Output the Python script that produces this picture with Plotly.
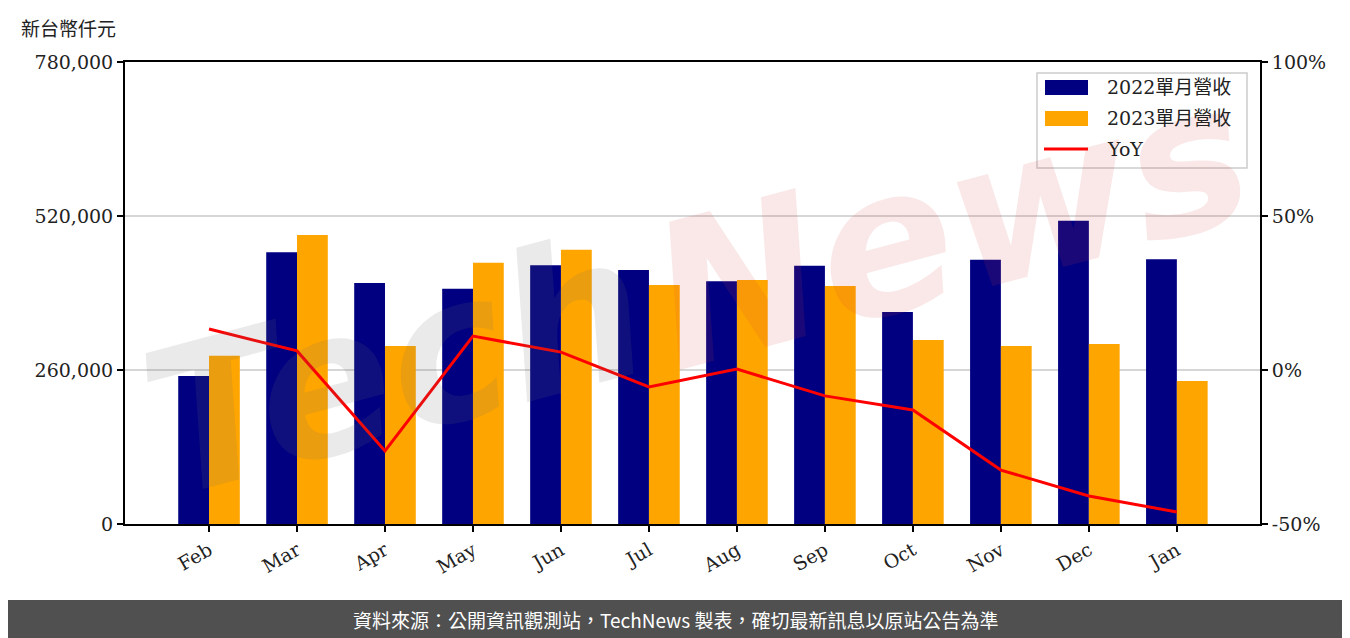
import plotly.graph_objects as go

months = ["Feb", "Mar", "Apr", "May", "Jun", "Jul", "Aug", "Sep", "Oct", "Nov", "Dec", "Jan"]
rev_2022 = [250000, 459000, 407000, 397000, 437000, 429000, 410000, 436000, 358000, 446000, 512000, 447000]
rev_2023 = [284000, 488000, 300500, 441000, 463000, 403500, 412000, 402000, 310500, 300500, 304000, 241500]
yoy = [13.3, 6.2, -26.3, 11.0, 5.8, -5.5, 0.3, -8.4, -13.0, -32.5, -40.9, -46.1]

left_ticks = [0, 260000, 520000, 780000]
left_labels = ["0", "260,000", "520,000", "780,000"]
right_ticks = [-50, 0, 50, 100]
right_labels = ["-50%", "0%", "50%", "100%"]

series_names = ["2022單月營收", "2023單月營收", "YoY"]
series_colors = ["#000080", "#FFA500", "#FF0000"]

serif = "DejaVu Serif, Noto Sans CJK TC, serif"
x_idx = list(range(len(months)))

fig = go.Figure()
fig.add_trace(go.Bar(x=x_idx, y=rev_2022, name=series_names[0], marker_color=series_colors[0],
                     marker_line_width=0, offset=-0.35, width=0.35, showlegend=False))
fig.add_trace(go.Bar(x=x_idx, y=rev_2023, name=series_names[1], marker_color=series_colors[1],
                     marker_line_width=0, offset=0.0, width=0.35, showlegend=False))
fig.add_trace(go.Scatter(x=x_idx, y=yoy, name=series_names[2], mode="lines",
                         line=dict(color=series_colors[2], width=3), yaxis="y2", showlegend=False))

# page offset (body margin 8px) compensation
OFF = 8
W, H = 1350 - OFF, 638 - OFF
L = 125 - OFF
T = 62 - OFF
R = 1350 - 1260
B = 638 - 524
pw, ph = W - L - R, H - T - B

def px_x(p):
    return (p - OFF - L) / pw

def px_y(p):
    return (H - B - (p - OFF)) / ph

tickfont = dict(family=serif, size=19, color="#222")

fig.update_layout(
    width=W, height=H,
    margin=dict(l=L, r=R, t=T, b=B),
    plot_bgcolor="white", paper_bgcolor="white",
    barmode="overlay",
    font=dict(family=serif, size=19, color="#222"),
    xaxis=dict(
        range=[-0.955, 11.945], tickmode="array", tickvals=x_idx, ticktext=months,
        tickangle=-30, ticks="outside", ticklen=6, tickwidth=2, tickcolor="black",
        showline=True, linecolor="black", linewidth=2, mirror=True,
        showgrid=False, zeroline=False, tickfont=tickfont,
    ),
    yaxis=dict(
        range=[0, 780000], tickmode="array", tickvals=left_ticks, ticktext=left_labels,
        ticks="outside", ticklen=6, tickwidth=2, tickcolor="black",
        showline=True, linecolor="black", linewidth=2,
        showgrid=True, gridcolor="#d6d6d6", gridwidth=2, zeroline=False,
        tickfont=tickfont,
    ),
    yaxis2=dict(
        range=[-50, 100], overlaying="y", side="right", tickmode="array",
        tickvals=right_ticks, ticktext=right_labels,
        ticks="outside", ticklen=6, tickwidth=2, tickcolor="black",
        showline=True, linecolor="black", linewidth=2,
        showgrid=False, zeroline=False,
        tickfont=tickfont,
    ),
    showlegend=False,
)

# watermark (two parts)
fig.add_annotation(
    xref="paper", yref="paper", x=px_x(395), y=px_y(365), xanchor="center", yanchor="middle",
    text="<b><i>Tech</i></b>", showarrow=False, textangle=-15, opacity=0.14,
    font=dict(family="DejaVu Sans", size=200, color="rgb(110,110,110)"),
)
fig.add_annotation(
    xref="paper", yref="paper", x=px_x(950), y=px_y(225), xanchor="center", yanchor="middle",
    text="<b><i>News</i></b>", showarrow=False, textangle=-15, opacity=0.12,
    font=dict(family="DejaVu Sans", size=200, color="rgb(215,70,70)"),
)

# custom legend box
x0p, x1p, y0p, y1p = 1037, 1247, 73, 168
fig.add_shape(type="rect", xref="paper", yref="paper",
              x0=px_x(x0p), x1=px_x(x1p), y0=px_y(y1p), y1=px_y(y0p),
              fillcolor="rgba(255,255,255,0.8)", line=dict(color="#cccccc", width=1.5))
sw_rows = [87, 118, 149]
for i in range(2):
    fig.add_shape(type="rect", xref="paper", yref="paper",
                  x0=px_x(1045), x1=px_x(1088), y0=px_y(sw_rows[i] + 8), y1=px_y(sw_rows[i] - 7),
                  fillcolor=series_colors[i], line=dict(width=0))
fig.add_shape(type="line", xref="paper", yref="paper",
              x0=px_x(1044), x1=px_x(1088), y0=px_y(sw_rows[2]), y1=px_y(sw_rows[2]),
              line=dict(color=series_colors[2], width=3))
for i in range(3):
    fig.add_annotation(xref="paper", yref="paper", x=px_x(1105), y=px_y(sw_rows[i]),
                       xanchor="left", yanchor="middle", text=series_names[i], showarrow=False,
                       font=dict(family=serif, size=19, color="#222"))

# unit label
fig.add_annotation(
    xref="paper", yref="paper", x=px_x(19), y=px_y(28), xanchor="left", yanchor="middle",
    text="新台幣仟元", showarrow=False,
    font=dict(family="Noto Sans CJK TC", size=19, color="#222"),
)

# footer bar
fig.add_shape(type="rect", xref="paper", yref="paper",
              x0=px_x(0), x1=px_x(1352), y0=px_y(600), y1=px_y(640),
              fillcolor="#505050", line=dict(width=0), layer="above")
fig.add_annotation(
    xref="paper", yref="paper", x=px_x(675), y=px_y(619), xanchor="center", yanchor="middle",
    text="資料來源：公開資訊觀測站，TechNews 製表，確切最新訊息以原站公告為準", showarrow=False,
    font=dict(family="Noto Sans CJK TC", size=19, color="white"),
)

fig.write_html("out.html")
